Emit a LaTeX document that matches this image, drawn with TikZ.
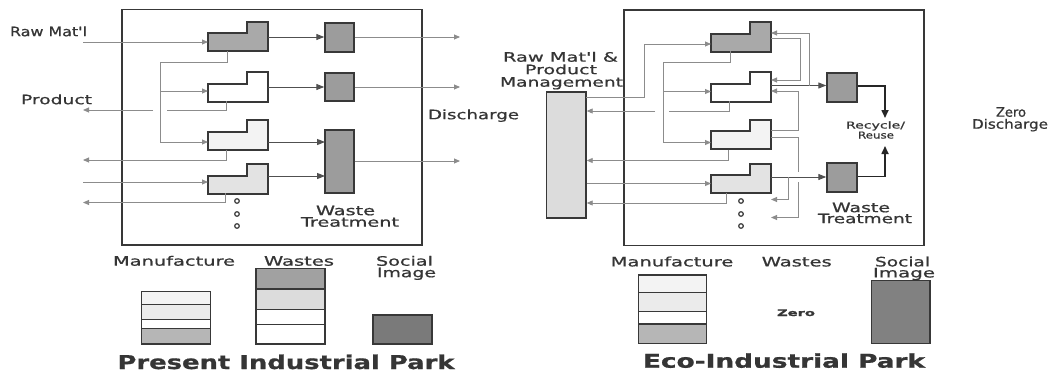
\documentclass[tikz,border=0pt]{standalone}
\usepackage{fontspec}
\setmainfont{DejaVu Sans}
\newfontfamily\lblfont{DejaVu Sans}[FakeBold=0.7]
\newfontfamily\ttlfont{DejaVu Sans Bold}[FakeBold=0.8]
\usetikzlibrary{arrows.meta}
\definecolor{ln}{HTML}{8C8C8C}
\definecolor{dk}{HTML}{505050}
\definecolor{bd}{HTML}{383838}
\definecolor{tx}{HTML}{353535}
\definecolor{sA}{HTML}{A9A9A9}
\definecolor{sC}{HTML}{F3F3F3}
\definecolor{sD}{HTML}{E3E3E3}
\definecolor{wg}{HTML}{9C9C9C}
\definecolor{mg}{HTML}{DCDCDC}
\definecolor{soc}{HTML}{7A7A7A}
\newcommand\fitw[2]{\resizebox{#1pt}{\height}{#2}}
\newcommand\mfgdraw[4]{%
  \draw[mfg,fill=#3] (#1,#2+29.5) -- (#1,#2+11.5) -- (#1+39,#2+11.5) -- (#1+39,#2) -- (#1+60,#2) -- (#1+60,#2+29.5) -- cycle;
  \node[inner sep=0pt,minimum width=60pt,minimum height=29.5pt,anchor=north west] (#4) at (#1,#2) {};}
\begin{document}
\begin{tikzpicture}[x=1pt,y=-1pt,
  conn/.style={draw=ln,line width=0.9pt},
  arr/.style={conn,-{Triangle[length=6pt,width=5pt]}},
  darr/.style={draw=dk,line width=1pt,-{Triangle[length=8pt,width=6pt]}},
  thk/.style={draw=black!85,line width=1.6pt,-{Triangle[length=8pt,width=7pt]}},
  mfg/.style={draw=bd,line width=2pt,line join=miter},
  wbox/.style={draw=bd,line width=1.4pt,fill=wg,inner sep=0pt},
  frame/.style={draw=bd,line width=1.5pt},
  bar/.style={draw=bd,line width=1.3pt},
  dot/.style={draw=bd,line width=1.2pt,fill=white},
  lbl/.style={inner sep=0pt,anchor=base,text=tx,font=\lblfont\fontsize{13}{15}\selectfont},
  sml/.style={lbl,font=\lblfont\fontsize{9.5}{10}\selectfont},
  ttl/.style={lbl,font=\ttlfont\fontsize{19}{21}\selectfont}]
\useasboundingbox (0,0) rectangle (1052,372);
\fill[white] (0,0) rectangle (1052,372);

% ================= LEFT PANEL =================
\draw[frame] (122,9.5) rectangle (422,245);
\mfgdraw{208}{21.5}{sA}{ls1}
\mfgdraw{208}{72}{white}{ls2}
\mfgdraw{208}{120}{sC}{ls3}
\mfgdraw{208}{164}{sD}{ls4}
\node[wbox,minimum width=29pt,minimum height=29pt] (lb1) at (339.5,37.5) {};
\node[wbox,minimum width=29pt,minimum height=28pt] (lb2) at (339.5,87) {};
\node[wbox,minimum width=29pt,minimum height=63pt] (lb3) at (339.5,161.5) {};
\coordinate (lin1) at (83,42);
\coordinate (lin4) at (83,182);
\coordinate (lo1) at (460,37);
\coordinate (lo2) at (460,87);
\coordinate (lo3) at (460,161);
\coordinate (lp2) at (83,110);
\coordinate (lp3) at (83,160);
\coordinate (lp4) at (83,202.5);
% inputs
\draw[arr] (lin1) -- (208,42);
\draw[arr] (lin4) -- (208,182);
% to waste treatment
\draw[darr] (268,37) -- (lb1.west |- 0,37);
\draw[darr] (268,87) -- (lb2.west);
\draw[darr] (268,142) -- (325,142);
\draw[darr] (268,176) -- (325,176);
% discharge
\draw[arr] (lb1.east |- 0,37) -- (lo1);
\draw[arr] (lb2.east) -- (lo2);
\draw[arr] (lb3.east |- 0,161) -- (lo3);
% internal distribution
\draw[conn] (227.5,51) -- (227.5,62) -- (160,62) -- (160,142);
\draw[arr] (160,142) -- (208,142);
\draw[arr] (160,91) -- (208,91);
% products
\draw[conn] (226,101) -- (226,110) -- (167,110);
\draw[arr] (153,110) -- (lp2);
\draw[arr] (226,149.5) -- (226,160) -- (lp3);
\draw[arr] (225,193) -- (225,202.5) -- (lp4);
% dots
\foreach \yy in {201,214,226} \draw[dot] (237,\yy) circle (2.3);
% labels
\node[lbl] (tRaw) at (48.5,36.2) {\fitw{77}{Raw Mat'l}};
\node[lbl] (tProd) at (56.5,104.2) {\fitw{71}{Product}};
\node[lbl] (tDis) at (473.5,119.2) {\fitw{91}{Discharge}};
\node[lbl] (tW1) at (345.5,215.2) {\fitw{59}{Waste}};
\node[lbl] (tT1) at (350,226.7) {\fitw{98}{Treatment}};
% legend left
\draw[bar,fill=sC] (141.3,291.7) rectangle (210.6,304.2);
\draw[bar,fill=sD!70] (141.3,304.2) rectangle (210.6,319.4);
\draw[bar,fill=white] (141.3,319.4) rectangle (210.6,328.6);
\draw[bar,fill=sA!85] (141.3,328.6) rectangle (210.6,344);
\draw[bar,fill=wg!95] (256,268.7) rectangle (325,289);
\draw[bar,fill=mg] (256,289) rectangle (325,309.3);
\draw[bar,fill=white] (256,309.3) rectangle (325,324.5);
\draw[bar,fill=white] (256,324.5) rectangle (325,344);
\draw[bar,fill=soc] (373,315) rectangle (432,344);
\node[lbl] (tM1) at (174,265.7) {\fitw{122}{Manufacture}};
\node[lbl] (tWa1) at (299,265.7) {\fitw{70}{Wastes}};
\node[lbl] (tS1) at (404.5,265.7) {\fitw{57}{Social}};
\node[lbl] (tI1) at (406.5,277.2) {\fitw{59}{Image}};
\node[ttl] (title1) at (286,369) {\fitw{337}{Present Industrial Park}};

% ================= RIGHT PANEL =================
\draw[frame] (624,10) rectangle (924,245.5);
\mfgdraw{711}{22}{sA}{rs1}
\mfgdraw{711}{72}{white}{rs2}
\mfgdraw{711}{119.5}{sC}{rs3}
\mfgdraw{711}{163.5}{sD}{rs4}
\node[wbox,minimum width=30pt,minimum height=29pt] (rb1) at (842,87.5) {};
\node[wbox,minimum width=30pt,minimum height=29pt] (rb2) at (842,177.5) {};
\node[draw=bd,line width=1.4pt,fill=mg,inner sep=0pt,minimum width=39.5pt,minimum height=126pt] (mgmt) at (566.25,155) {};
% management in/out
\draw[conn] (586,97.5) -- (644,97.5) -- (644,44);
\draw[arr] (644,44) -- (711,44);
\draw[arr] (mgmt.east |- 0,183.5) -- (711,183.5);
\draw[conn] (729,101) -- (729,111) -- (669,111);
\draw[arr] (655,111) -- (mgmt.east |- 0,111);
\draw[arr] (728,149.5) -- (728,160.5) -- (mgmt.east |- 0,160.5);
\draw[arr] (726.5,193) -- (726.5,203) -- (mgmt.east |- 0,203);
% internal distribution
\draw[conn] (730.5,51) -- (730.5,62.5) -- (663,62.5) -- (663,142.5);
\draw[arr] (663,142.5) -- (711,142.5);
\draw[arr] (663,91.5) -- (711,91.5);
% recycle loops
\draw[arr] (771,38) -- (800,38) -- (800,80) -- (771,80);
\draw[darr] (771,85.5) -- (rb1.west |- 0,85.5);
\draw[arr] (809,85.5) -- (809,33) -- (771,33);
\draw[arr] (771,130) -- (798,130) -- (798,91) -- (771,91);
\draw[conn] (771,137) -- (798,137) -- (798,172);
\draw[arr] (798,182) -- (798,217.5) -- (771,217.5);
\draw[darr] (771,177) -- (rb2.west |- 0,177);
\draw[arr] (788.5,177) -- (788.5,199.5) -- (771,199.5);
% to recycle / reuse
\draw[thk] (rb1.east |- 0,86) -- (885,86) -- (885,118);
\draw[thk] (rb2.east |- 0,176.5) -- (885,176.5) -- (885,146);
% dots
\foreach \yy in {201,214,226} \draw[dot] (741,\yy) circle (2.3);
% labels
\node[lbl] (tRM) at (560.5,61.7) {\fitw{115}{Raw Mat'l \&}};
\node[lbl] (tPr) at (561,74.2) {\fitw{72}{Product}};
\node[lbl] (tMg) at (561.5,86.7) {\fitw{123}{Management}};
\node[sml] (tRc) at (875.5,128.5) {\fitw{59}{Recycle/}};
\node[sml] (tRu) at (876,138.5) {\fitw{36}{Reuse}};
\node[lbl] (tW2) at (861,212.2) {\fitw{58}{Waste}};
\node[lbl] (tT2) at (865,223.2) {\fitw{94}{Treatment}};
\node[lbl] (tZ) at (1011,116.7) {\fitw{30}{Zero}};
\node[lbl] (tZD) at (1010,128.7) {\fitw{76}{Discharge}};
% legend right
\draw[bar,fill=sC] (638.3,275) rectangle (706.7,292.3);
\draw[bar,fill=sD!70] (638.3,292.3) rectangle (706.7,311.7);
\draw[bar,fill=white] (638.3,311.7) rectangle (706.7,324);
\draw[bar,fill=sA!85] (638.3,324) rectangle (706.7,343.3);
\draw[bar,fill=soc!95!white] (871.7,280.7) rectangle (930,343.3);
\node[lbl] (tM2) at (672,266.4) {\fitw{122.6}{Manufacture}};
\node[lbl] (tWa2) at (796.7,266.4) {\fitw{70}{Wastes}};
\node[lbl] (tS2) at (902.5,266.4) {\fitw{55}{Social}};
\node[lbl] (tI2) at (904,277.4) {\fitw{62}{Image}};
\node[sml,font=\ttlfont\fontsize{9}{10}\selectfont] (tZero) at (796,316) {\fitw{38}{Zero}};
\node[ttl] (title2) at (784,367.7) {\fitw{282}{Eco-Industrial Park}};
\end{tikzpicture}
\end{document}
